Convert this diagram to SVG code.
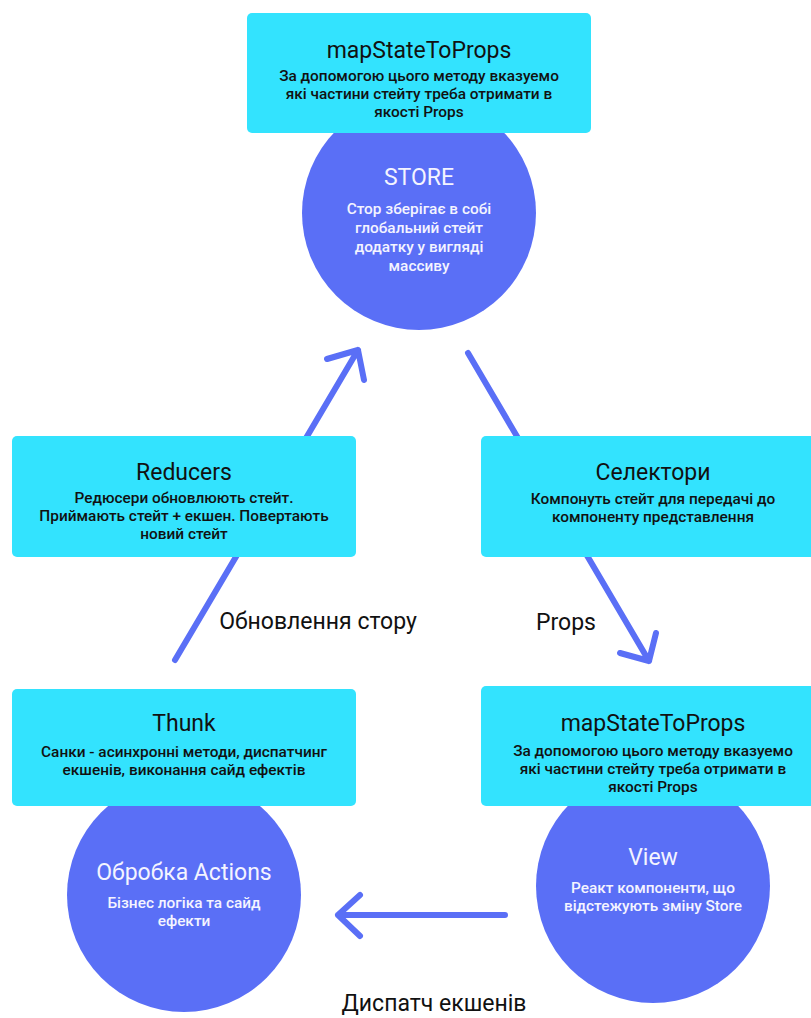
<svg xmlns="http://www.w3.org/2000/svg" width="811" height="1018" viewBox="0 0 811 1018">
<style>
.box{fill:#33e3fe}
.circ{fill:#5a6ff6}
.conn{fill:none;stroke:#5a6ff6;stroke-width:6;stroke-linecap:round;stroke-linejoin:round}
.bt{font-family:Roboto,"Liberation Sans",sans-serif;font-size:23px;fill:#111;text-anchor:middle}
.bd{font-family:Roboto,"Liberation Sans",sans-serif;font-size:15.4px;font-weight:500;fill:#111;text-anchor:middle}
.ct{font-family:Roboto,"Liberation Sans",sans-serif;font-size:23px;fill:#f4f4ff;text-anchor:middle}
.cd{font-family:Roboto,"Liberation Sans",sans-serif;font-size:15.4px;font-weight:500;fill:#f4f4ff;text-anchor:middle}
.lbl{font-family:Roboto,"Liberation Sans",sans-serif;font-size:23px;fill:#111;text-anchor:middle}
</style>
<rect width="811" height="1018" fill="#fff"/>
<g id="connectors">
<path class="conn" d="M175,660 L358,350 M327,359 L358,350 L364,380"/>
<path class="conn" d="M468,353 L649,661 M620,653 L649,661 L656,633"/>
<path class="conn" d="M505,915 L338,915 M360,895 L338,915 L360,936"/>
<text class="lbl" x="318" y="629">Обновлення стору</text>
<text class="lbl" x="566" y="630">Props</text>
<text class="lbl" x="434" y="1011">Диспатч екшенів</text>
</g>
<g id="store">
<circle class="circ" cx="419" cy="213" r="117"/>
<text class="ct" x="419" y="185">STORE</text>
<text class="cd" x="419" y="214">Стор зберігає в собі</text>
<text class="cd" x="419" y="233">глобальний стейт</text>
<text class="cd" x="419" y="252">додатку у вигляді</text>
<text class="cd" x="419" y="271">массиву</text>
</g>
<g id="actions">
<circle class="circ" cx="184" cy="895" r="117"/>
<text class="ct" x="184" y="880">Обробка Actions</text>
<text class="cd" x="184" y="908">Бізнес логіка та сайд</text>
<text class="cd" x="184" y="926">ефекти</text>
</g>
<g id="view">
<circle class="circ" cx="653" cy="886" r="117"/>
<text class="ct" x="653" y="865">View</text>
<text class="cd" x="653" y="893">Реакт компоненти, що</text>
<text class="cd" x="653" y="911">відстежують зміну Store</text>
</g>
<g id="map-top">
<rect class="box" x="247" y="13" width="344" height="120" rx="5"/>
<text class="bt" x="419" y="58">mapStateToProps</text>
<text class="bd" x="419" y="81">За допомогою цього методу вказуемо</text>
<text class="bd" x="419" y="99">які частини стейту треба отримати в</text>
<text class="bd" x="419" y="117">якості Props</text>
</g>
<g id="reducers">
<rect class="box" x="12" y="436" width="344" height="121" rx="5"/>
<text class="bt" x="184" y="480">Reducers</text>
<text class="bd" x="184" y="503">Редюсери обновлюють стейт.</text>
<text class="bd" x="184" y="521">Приймають стейт + екшен. Повертають</text>
<text class="bd" x="184" y="539">новий стейт</text>
</g>
<g id="selectors">
<rect class="box" x="481" y="436" width="344" height="121" rx="5"/>
<text class="bt" x="653" y="480">Селектори</text>
<text class="bd" x="653" y="504">Компонуть стейт для передачі до</text>
<text class="bd" x="653" y="522">компоненту представлення</text>
</g>
<g id="thunk">
<rect class="box" x="12" y="689" width="344" height="117" rx="5"/>
<text class="bt" x="184" y="731">Thunk</text>
<text class="bd" x="184" y="757">Санки - асинхронні методи, диспатчинг</text>
<text class="bd" x="184" y="775">екшенів, виконання сайд ефектів</text>
</g>
<g id="map-view">
<rect class="box" x="481" y="686" width="344" height="120" rx="5"/>
<text class="bt" x="653" y="731">mapStateToProps</text>
<text class="bd" x="653" y="756">За допомогою цього методу вказуемо</text>
<text class="bd" x="653" y="774">які частини стейту треба отримати в</text>
<text class="bd" x="653" y="792">якості Props</text>
</g>
</svg>
